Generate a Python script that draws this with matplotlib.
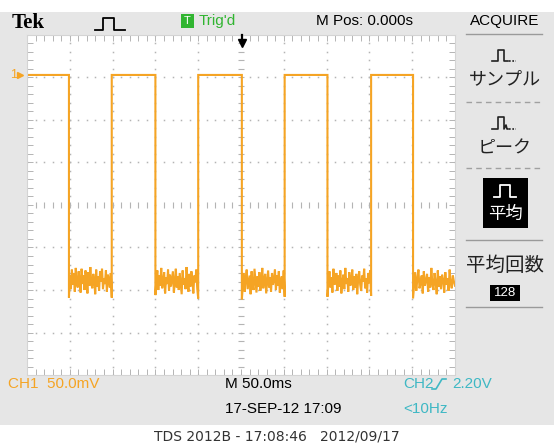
import numpy as np
import matplotlib
matplotlib.use('Agg')
import matplotlib.pyplot as plt
from matplotlib.patches import Rectangle

# trace data (time in ms, level in mV)
high_level = 0
falls = [-201, -100, 1, 101, 201]
rises = [-151, -50, 51, 152]
low_a = [-262, -236, -252, -229, -247, -233, -255, -227, -244, -250, -231, -241, -256, -228, -246, -236, -253, -230,
         -240, -257, -232, -248, -226, -245, -251, -234, -242, -258, -229, -249, -237, -254, -231, -243, -228, -252,
         -239, -246, -230, -255, -235, -241, -250, -233, -262]
low_b = [-259, -241, -230, -253, -236, -248, -227, -251, -243, -232, -257, -238, -246, -229, -254, -235, -249, -240,
         -231, -256, -244, -228, -250, -237, -253, -233, -245, -258, -230, -247, -239, -252, -226, -243, -255, -234,
         -249, -231, -241, -257, -236, -244, -229, -251, -263]
low_c = [-264, -248, -233, -255, -239, -229, -252, -244, -236, -258, -231, -246, -253, -228, -242, -256, -237, -249,
         -232, -254, -245, -227, -251, -240, -234, -257, -243, -230, -250, -238, -255, -233, -247, -241, -229, -253,
         -236, -248, -231, -256, -244, -237, -252, -230, -261]
low_d = [-261, -245, -231, -250, -238, -256, -228, -247, -241, -233, -254, -236, -249, -230, -257, -243, -235, -252,
         -227, -246, -239, -255, -232, -248, -244, -229, -253, -237, -250, -234, -258, -240, -231, -247, -254, -236,
         -243, -228, -251, -239, -256, -233, -245, -230, -260]
low_e = [-263, -247, -232, -254, -240, -229, -251, -245, -236, -257, -231, -248, -242, -234, -255, -238, -250, -227,
         -246, -253, -233, -244, -258, -230, -249, -237, -252, -235, -241, -256, -232, -247, -239, -254, -229, -245,
         -251, -236, -243, -248]
lows = [low_a, low_b, low_c, low_d, low_e]

time_div = 50      # ms / div
volt_div = 50      # mV / div
ground_div = 3.06  # ground marker position above centre (div)

ORANGE = '#f5a424'
CYAN = '#3fb8c4'
GREEN = '#31b531'
GRID = '#b4b4b4'
SANS = ['Liberation Sans', 'DejaVu Sans']
JP = ['Noto Sans CJK JP', 'DejaVu Sans']

fig = plt.figure(figsize=(5.54, 4.48), dpi=100)

# background axes in pixel units
bg = fig.add_axes([0, 0, 1, 1])
bg.set_xlim(0, 554)
bg.set_ylim(448, 0)
bg.axis('off')
bg.add_patch(Rectangle((0, 12), 554, 413, color='#e6e6e6', lw=0))

# ---- scope screen ----
scr = fig.add_axes([27 / 554, (448 - 375) / 448, 428 / 554, 340 / 448])
scr.set_facecolor('white')
centre = -ground_div * volt_div
scr.set_xlim(-5 * time_div, 5 * time_div)
scr.set_ylim(centre - 4 * volt_div, centre + 4 * volt_div)
x_major = np.arange(-5, 6) * time_div
y_major = centre + np.arange(-4, 5) * volt_div
x_minor = np.arange(-25, 26) * time_div / 5
y_minor = centre + np.arange(-20, 21) * volt_div / 5
scr.set_xticks(x_major)
scr.set_yticks(y_major)
scr.set_xticks(x_minor, minor=True)
scr.set_yticks(y_minor, minor=True)
scr.tick_params(which='both', direction='in', length=4, width=0.7, color=GRID,
                top=True, right=True, labelbottom=False, labelleft=False)
for sp in scr.spines.values():
    sp.set_color('#d4d4d4')
    sp.set_linewidth(0.8)

# dotted graticule
for t in x_major[1:-1]:
    if t != 0:
        scr.plot(np.full(len(y_minor), t), y_minor, ls='none', marker='s', ms=1.1, color=GRID, mew=0)
for v in y_major[1:-1]:
    if v != centre:
        scr.plot(x_minor, np.full(len(x_minor), v), ls='none', marker='s', ms=1.1, color=GRID, mew=0)
# centre cross with ticks
scr.plot(x_minor, np.full(len(x_minor), centre), ls='none', marker='|', ms=5, mew=0.8, color=GRID)
scr.plot(np.zeros(len(y_minor)), y_minor, ls='none', marker='_', ms=5, mew=0.8, color=GRID)

# waveform
t_pts = [-5 * time_div]
v_pts = [high_level]
for i, fall in enumerate(falls):
    t_pts.append(fall)
    v_pts.append(high_level)
    seg = lows[i]
    end = rises[i] if i < len(rises) else 5 * time_div
    t_pts += list(np.linspace(fall, end, len(seg)))
    v_pts += seg
    if i < len(rises):
        t_pts.append(end)
        v_pts.append(high_level)
scr.plot(t_pts, v_pts, color=ORANGE, lw=1.5, solid_joinstyle='miter')

# overlay axes for marks drawn on top of the screen
top = fig.add_axes([0, 0, 1, 1])
top.set_xlim(0, 554)
top.set_ylim(448, 0)
top.axis('off')
top.patch.set_alpha(0)
top.plot([242, 242], [35, 41], color='black', lw=1.6)
top.plot(242, 43, marker='v', ms=6, color='black')

# ---- header ----
bg.text(12, 23, 'Tek', fontfamily='Liberation Serif', fontweight='bold', fontsize=15, va='center')
bg.plot([95, 103, 103, 114, 114, 125], [30, 30, 18, 18, 30, 30], color='black', lw=1.3)
bg.add_patch(Rectangle((181, 14), 13, 14, color=GREEN, lw=0))
bg.text(187.5, 21.5, 'T', color='white', fontsize=8, ha='center', va='center', fontfamily=SANS)
bg.text(199, 21, "Trig'd", color=GREEN, fontsize=11, va='center', fontfamily=SANS)
bg.text(365, 21, 'M Pos: 0.000s', fontsize=11, ha='center', va='center', fontfamily=SANS)
bg.text(505, 21, 'ACQUIRE', fontsize=11, ha='center', va='center', fontfamily=SANS)

# channel 1 ground marker
bg.text(10, 75, '1', color=ORANGE, fontsize=9, va='center', fontfamily=SANS)
bg.plot(20, 75, marker='>', ms=4, color=ORANGE)

# ---- right menu ----
bg.plot([466, 542], [34, 34], color='#9a9a9a', lw=1)
bg.plot([492, 498, 498, 504, 504, 508], [61, 61, 50, 50, 61, 61], color='#222222', lw=1.2)
bg.plot([509, 516], [61, 61], color='#222222', lw=1.2, ls=(0, (1, 1)))
bg.text(505, 79, 'サンプル', fontsize=13, ha='center', va='center', fontfamily=JP, color='#222222')
bg.plot([466, 542], [102, 102], color='#a0a0a0', lw=1, ls=(0, (4, 3)))
bg.plot([492, 498, 498, 504, 504, 506, 507, 508], [129, 129, 117, 117, 129, 125, 129, 129], color='#222222', lw=1.2)
bg.plot([509, 516], [129, 129], color='#222222', lw=1.2, ls=(0, (1, 1)))
bg.text(505, 148, 'ピーク', fontsize=13, ha='center', va='center', fontfamily=JP, color='#222222')
bg.plot([466, 542], [168, 168], color='#a0a0a0', lw=1, ls=(0, (4, 3)))
bg.add_patch(Rectangle((483, 178), 45, 50, color='black', lw=0))
bg.plot([494, 500, 500, 510, 510, 516], [197, 197, 185, 185, 197, 197], color='white', lw=1.3)
bg.text(505.5, 214, '平均', fontsize=12.5, ha='center', va='center', fontfamily=JP, color='white')
bg.plot([466, 542], [240, 240], color='#9a9a9a', lw=1)
bg.text(505, 265, '平均回数', fontsize=14, ha='center', va='center', fontfamily=JP, color='#222222')
bg.add_patch(Rectangle((490, 285), 30, 16, color='black', lw=0))
bg.text(505, 293, '128', fontsize=9.5, ha='center', va='center', fontfamily=SANS, color='white')
bg.plot([466, 542], [307, 307], color='#9a9a9a', lw=1)

# ---- footer ----
bg.text(8, 384, 'CH1  50.0mV', color=ORANGE, fontsize=11, va='center', fontfamily=SANS)
bg.text(225, 384, 'M 50.0ms', fontsize=11, va='center', fontfamily=SANS)
bg.text(225, 409, '17-SEP-12 17:09', fontsize=11, va='center', fontfamily=SANS)
bg.text(403, 384, 'CH2', color=CYAN, fontsize=11, va='center', fontfamily=SANS)
bg.plot([432, 436, 442, 446], [389, 389, 379, 379], color=CYAN, lw=1.2)
bg.text(452, 384, '2.20V', color=CYAN, fontsize=11, va='center', fontfamily=SANS)
bg.text(403, 409, '<10Hz', color=CYAN, fontsize=11, va='center', fontfamily=SANS)
bg.text(277, 437, 'TDS 2012B - 17:08:46   2012/09/17', fontsize=10, ha='center', va='center', color='#333333')

fig.savefig('out.png', dpi=100)
